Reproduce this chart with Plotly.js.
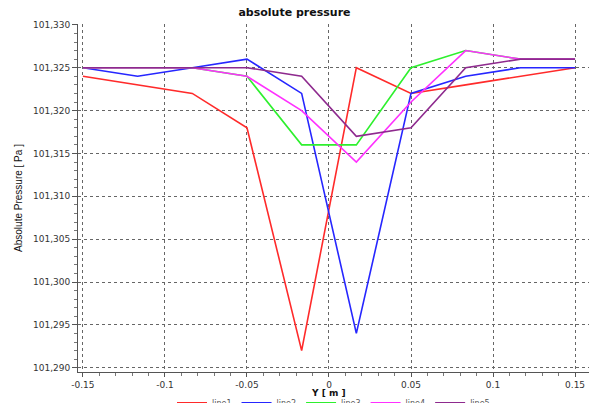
<!DOCTYPE html>
<html><head><meta charset="utf-8">
<script src="https://cdn.plot.ly/plotly-3.0.1.min.js"></script>
<style>html,body{margin:0;padding:0;background:#fff;}#chart{width:589px;height:403px;}</style>
</head><body><div id="chart"></div>
<script>
const yPos = [-0.15, -0.11667, -0.08333, -0.05, -0.01667, 0.01667, 0.05, 0.08333, 0.11667, 0.15];
const line1 = [101324, 101323, 101322, 101318, 101292, 101325, 101322, 101323, 101324, 101325];
const line2 = [101325, 101324, 101325, 101326, 101322, 101294, 101322, 101324, 101325, 101325];
const line3 = [101325, 101325, 101325, 101324, 101316, 101316, 101325, 101327, 101326, 101326];
const line4 = [101325, 101325, 101325, 101324, 101320, 101314, 101321, 101327, 101326, 101326];
const line5 = [101325, 101325, 101325, 101325, 101324, 101317, 101318, 101325, 101326, 101326];
const seriesNames = ['line1', 'line2', 'line3', 'line4', 'line5'];
const xTickVals = [-0.15, -0.1, -0.05, 0, 0.05, 0.1, 0.15];
const xTickText = ['-0.15', '-0.1', '-0.05', '0', '0.05', '0.1', '0.15'];

const colors = ['#ff2a2a', '#2626ff', '#2ef02e', '#ff30ff', '#8e2a8e'];
const allSeries = [line1, line2, line3, line4, line5];
const traces = allSeries.map((s, i) => ({
  x: yPos, y: s, name: seriesNames[i], type: 'scatter', mode: 'lines',
  line: {color: colors[i], width: 1.6}
}));
const gridCol = '#666';
const layout = {
  width: 589, height: 403,
  margin: {l: 78, r: 0, t: 24, b: 31, autoexpand: false},
  paper_bgcolor: '#fff', plot_bgcolor: '#fff',
  showlegend: true,
  title: {text: '<b>absolute pressure</b>', x: 0.5, xanchor: 'center', y: 0.97, yanchor: 'middle',
          font: {family: 'DejaVu Sans', size: 11, color: '#111'}},
  font: {family: 'DejaVu Sans', size: 9, color: '#333'},
  xaxis: {
    range: [-0.153, 0.1585], tickvals: xTickVals, ticktext: xTickText,
    showgrid: true, gridcolor: gridCol, griddash: 'dot', gridwidth: 1,
    zeroline: false, showline: true, linecolor: '#555', linewidth: 1,
    ticks: 'outside', ticklen: 4, tickcolor: '#555',
    minor: {dtick: 0.01, ticks: 'outside', ticklen: 3, tickcolor: '#777', showgrid: false},
    tickfont: {family: 'DejaVu Sans', size: 9, color: '#333'}
  },
  yaxis: {
    range: [101289.5, 101330.1], tickmode: 'linear', tick0: 101290, dtick: 5, tickformat: ',d',
    showgrid: true, gridcolor: gridCol, griddash: 'dot', gridwidth: 1,
    zeroline: false, showline: true, linecolor: '#555', linewidth: 1,
    ticks: 'outside', ticklen: 5, tickcolor: '#555',
    minor: {dtick: 1, ticks: 'outside', ticklen: 3, tickcolor: '#777', showgrid: false},
    tickfont: {family: 'DejaVu Sans', size: 9, color: '#333'},
    title: {text: 'Absolute Pressure [ Pa ]', standoff: 8,
            font: {family: 'Liberation Sans Narrow, Liberation Sans', size: 10, color: '#111'}}
  },
  annotations: [{
    text: '<b>Y [ m ]</b>', xref: 'x', yref: 'paper', x: 0, y: -0.061, xanchor: 'center', yanchor: 'middle',
    showarrow: false, font: {family: 'DejaVu Sans', size: 9, color: '#111'}
  }],
  legend: {orientation: 'h', x: 0.5, xanchor: 'center', y: -0.047, yanchor: 'top',
           itemwidth: 30, font: {family: 'DejaVu Sans', size: 8, color: '#555'}, bgcolor: 'rgba(0,0,0,0)'}
};
Plotly.newPlot('chart', traces, layout, {displayModeBar: false, staticPlot: true});
</script></body></html>
